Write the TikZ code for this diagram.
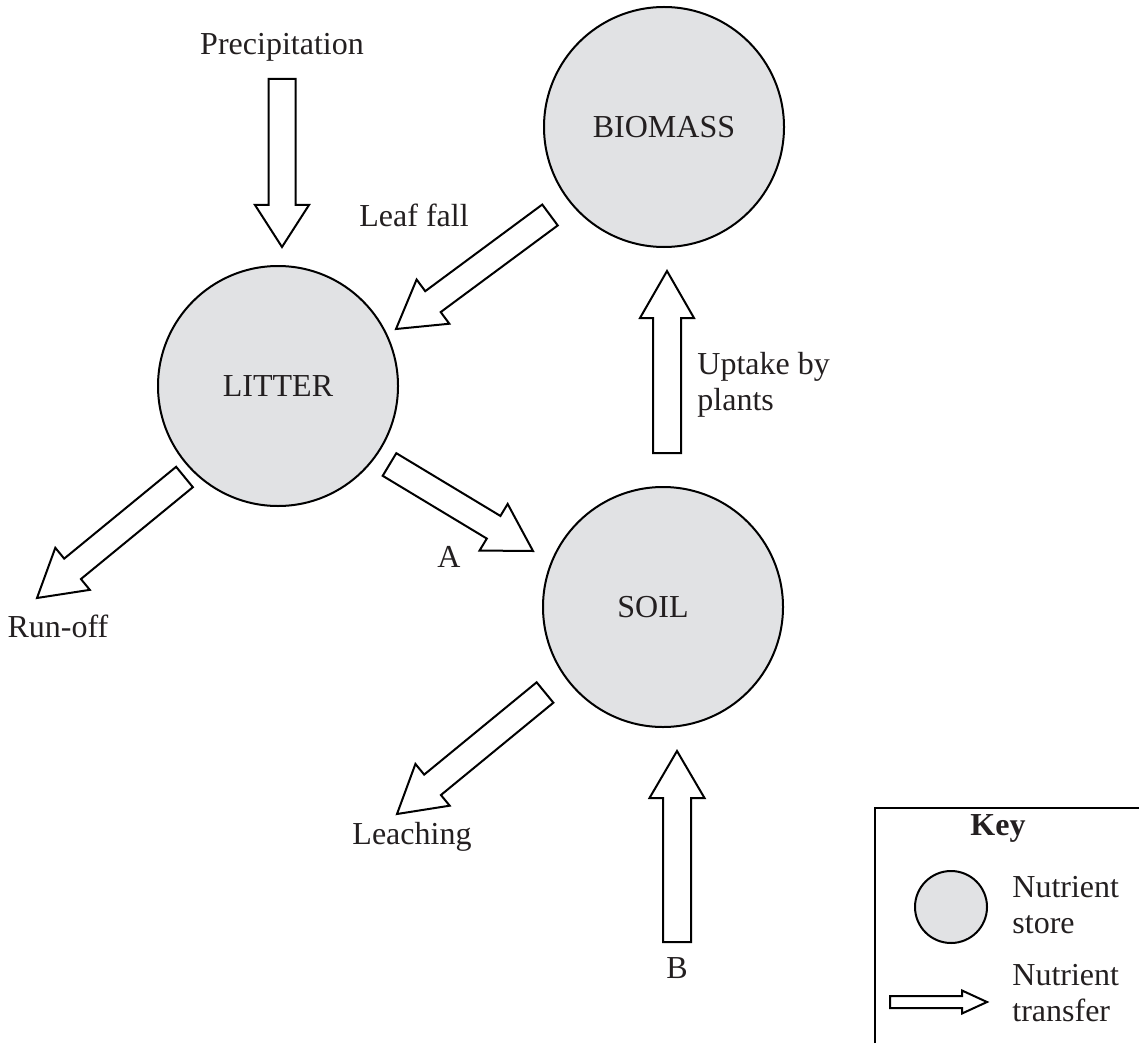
\documentclass[tikz,border=0pt]{standalone}
\usepackage{fontspec}
\setmainfont{Liberation Serif}
\usetikzlibrary{calc}
\definecolor{storefill}{HTML}{E1E2E4}
\definecolor{ink}{HTML}{231F20}
\tikzset{
  store/.style={circle, draw=black, line width=1pt, fill=storefill, inner sep=0pt, minimum size=120pt, text=ink},
  lbl/.style={inner sep=0pt, text=ink},
  transfer/.style={draw=black, fill=white, line width=1pt, line join=miter},
}
% fat arrow from #1 (tail middle) to #2 (tip); #3 shaft half width, #4 head half width, #5 head length
\newcommand\fatarrow[5]{%
  \coordinate (fa-h) at ($(#2)!#5!(#1)$);
  \draw[transfer] ($(#1)!#3!90:(#2)$) -- ($(fa-h)!#3!90:(#2)$) -- ($(fa-h)!#4!90:(#2)$) -- (#2)
    -- ($(fa-h)!#4!-90:(#2)$) -- ($(fa-h)!#3!-90:(#2)$) -- ($(#1)!#3!-90:(#2)$) -- cycle;
}
\begin{document}
\begin{tikzpicture}[x=0.5pt, y=-0.5pt, font=\fontsize{16}{18}\selectfont]
\useasboundingbox (0,0) rectangle (1139,1043);

% nutrient stores
\node[store] (biomass) at (664,127) {BIOMASS};
\node[store] (litter) at (278,386) {LITTER};
\node[store, label={[lbl, xshift=-5pt]center:SOIL}] (soil) at (663,607) {};

% labels
\node[lbl, anchor=base] (precip) at (282,55) {Precipitation};
\node[lbl, anchor=base] (leaffall) at (414,227) {Leaf fall};
\node[lbl, anchor=north west, align=left] (uptake) at (697,352) {Uptake by\\plants};
\node[lbl, anchor=base] (labA) at (449,567) {A};
\node[lbl, anchor=base] (runoff) at (58,637) {Run-off};
\node[lbl, anchor=base] (leaching) at (412,844) {Leaching};
\node[lbl, anchor=base] (labB) at (677,978) {B};

% arrow end points
\coordinate (precipT) at (282,79);   \coordinate (precipH) at (282,247);
\coordinate (leafT) at (550,215);    \coordinate (leafH) at (396,329);
\coordinate (uptakeT) at (667,453);  \coordinate (uptakeH) at (667,271);
\coordinate (aT) at (389.5,464.5);   \coordinate (aH) at (533,551);
\coordinate (runT) at (184.5,477);   \coordinate (runH) at (37,598);
\coordinate (leachT) at (545,692.5); \coordinate (leachH) at (397,814);
\coordinate (bT) at (677,942);       \coordinate (bH) at (677,751);

\fatarrow{precipT}{precipH}{6.75pt}{13.5pt}{21pt}
\fatarrow{leafT}{leafH}{6.5pt}{13.75pt}{23pt}
\fatarrow{uptakeT}{uptakeH}{7pt}{13.5pt}{23.5pt}
\fatarrow{aT}{aH}{6.6pt}{13.6pt}{23pt}
\fatarrow{runT}{runH}{6.6pt}{13.6pt}{23pt}
\fatarrow{leachT}{leachH}{6.6pt}{13.5pt}{23pt}
\fatarrow{bT}{bH}{7pt}{13.75pt}{23.5pt}

% key
\draw[line width=1pt] (875,1043) -- (875,808) -- (1139,808);
\node[lbl, anchor=base, font=\fontsize{16}{18}\selectfont\bfseries] (key) at (998,835) {Key};
\node[store, minimum size=36pt] (keystore) at (951,907) {};
\node[lbl, anchor=north west, align=left] (keystoretext) at (1012,876) {Nutrient\\store};
\node[lbl, anchor=north west, align=left] (keytransfertext) at (1012,964) {Nutrient\\transfer};
\coordinate (keyT) at (890,1002); \coordinate (keyH) at (987,1002);
\fatarrow{keyT}{keyH}{3pt}{5.75pt}{12.5pt}
\end{tikzpicture}
\end{document}
